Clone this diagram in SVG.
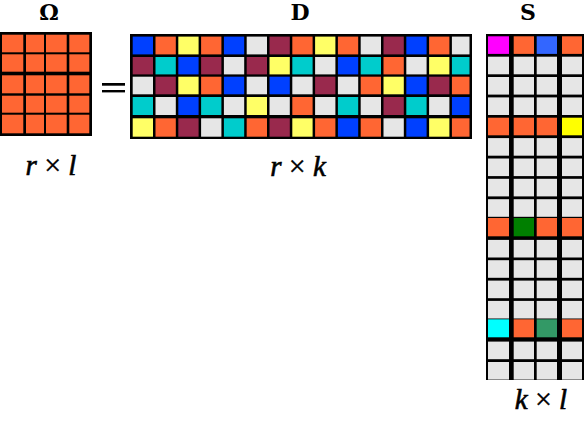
<svg xmlns="http://www.w3.org/2000/svg" width="584" height="444" viewBox="0 0 584 444">
<style>
.bg{fill:#000}
.o{fill:#ff6633}.b{fill:#0040ff}.y{fill:#ffff66}.g{fill:#e6e6e6}.m{fill:#99294d}.c{fill:#00cccc}
.mg{fill:#ff00ff}.sb{fill:#3366ff}.yy{fill:#ffff00}.gr{fill:#007f00}.cy{fill:#00ffff}.sg{fill:#339966}
.t{font-family:"DejaVu Serif","Liberation Serif",serif;font-weight:bold;font-size:22px;text-anchor:middle}
.m2{font-family:"Liberation Serif","DejaVu Serif",serif;font-style:italic;font-size:29px;text-anchor:middle;stroke:#000;stroke-width:0.6}
.x{font-style:normal;font-size:30px;stroke-width:0.3}
</style>
<rect width="584" height="444" fill="#fff"/>
<g id="omega">
<text class="t" x="49" y="20">Ω</text>
<rect class="bg" x="0" y="32" width="92" height="104"/>
<g class="o">
<rect x="2" y="34.7" width="21.3" height="17.6"/><rect x="26" y="34.7" width="18" height="17.6"/><rect x="46" y="34.7" width="20.7" height="17.6"/><rect x="69.3" y="34.7" width="20" height="17.6"/>
<rect x="2" y="54.3" width="21.3" height="17.4"/><rect x="26" y="54.3" width="18" height="17.4"/><rect x="46" y="54.3" width="20.7" height="17.4"/><rect x="69.3" y="54.3" width="20" height="17.4"/>
<rect x="2" y="75.3" width="21.3" height="18"/><rect x="26" y="75.3" width="18" height="18"/><rect x="46" y="75.3" width="20.7" height="18"/><rect x="69.3" y="75.3" width="20" height="18"/>
<rect x="2" y="95.7" width="21.3" height="17"/><rect x="26" y="95.7" width="18" height="17"/><rect x="46" y="95.7" width="20.7" height="17"/><rect x="69.3" y="95.7" width="20" height="17"/>
<rect x="2" y="114.7" width="21.3" height="18.6"/><rect x="26" y="114.7" width="18" height="18.6"/><rect x="46" y="114.7" width="20.7" height="18.6"/><rect x="69.3" y="114.7" width="20" height="18.6"/>
</g>
<text class="m2" x="51" y="175">r <tspan class="x">×</tspan> l</text>
</g>
<g id="equals">
<rect x="102" y="83" width="23" height="2.7" fill="#000"/>
<rect x="102" y="90" width="23" height="2.4" fill="#000"/>
</g>
<g id="D">
<text class="t" x="300" y="20">D</text>
<rect class="bg" x="130" y="34" width="342" height="105"/>
<g id="Drow1">
<rect class="b" x="132.7" y="36.6" width="20.3" height="17.8"/><rect class="o" x="155.5" y="36.6" width="20.3" height="17.8"/><rect class="y" x="178.3" y="36.6" width="20.3" height="17.8"/><rect class="o" x="201.1" y="36.6" width="20.3" height="17.8"/><rect class="b" x="223.9" y="36.6" width="20.3" height="17.8"/><rect class="g" x="246.7" y="36.6" width="20.3" height="17.8"/><rect class="m" x="269.5" y="36.6" width="20.3" height="17.8"/><rect class="o" x="292.3" y="36.6" width="20.3" height="17.8"/><rect class="y" x="315.1" y="36.6" width="20.3" height="17.8"/><rect class="o" x="337.9" y="36.6" width="20.3" height="17.8"/><rect class="g" x="360.7" y="36.6" width="20.3" height="17.8"/><rect class="m" x="383.5" y="36.6" width="20.3" height="17.8"/><rect class="b" x="406.3" y="36.6" width="20.3" height="17.8"/><rect class="o" x="429.1" y="36.6" width="20.3" height="17.8"/><rect class="g" x="451.9" y="36.6" width="17.6" height="17.8"/>
</g>
<g id="Drow2">
<rect class="m" x="132.7" y="57" width="20.3" height="17.4"/><rect class="c" x="155.5" y="57" width="20.3" height="17.4"/><rect class="b" x="178.3" y="57" width="20.3" height="17.4"/><rect class="m" x="201.1" y="57" width="20.3" height="17.4"/><rect class="g" x="223.9" y="57" width="20.3" height="17.4"/><rect class="m" x="246.7" y="57" width="20.3" height="17.4"/><rect class="y" x="269.5" y="57" width="20.3" height="17.4"/><rect class="c" x="292.3" y="57" width="20.3" height="17.4"/><rect class="g" x="315.1" y="57" width="20.3" height="17.4"/><rect class="b" x="337.9" y="57" width="20.3" height="17.4"/><rect class="c" x="360.7" y="57" width="20.3" height="17.4"/><rect class="o" x="383.5" y="57" width="20.3" height="17.4"/><rect class="g" x="406.3" y="57" width="20.3" height="17.4"/><rect class="y" x="429.1" y="57" width="20.3" height="17.4"/><rect class="c" x="451.9" y="57" width="17.6" height="17.4"/>
</g>
<g id="Drow3">
<rect class="g" x="132.7" y="76.7" width="20.3" height="17.6"/><rect class="m" x="155.5" y="76.7" width="20.3" height="17.6"/><rect class="y" x="178.3" y="76.7" width="20.3" height="17.6"/><rect class="o" x="201.1" y="76.7" width="20.3" height="17.6"/><rect class="b" x="223.9" y="76.7" width="20.3" height="17.6"/><rect class="g" x="246.7" y="76.7" width="20.3" height="17.6"/><rect class="b" x="269.5" y="76.7" width="20.3" height="17.6"/><rect class="g" x="292.3" y="76.7" width="20.3" height="17.6"/><rect class="m" x="315.1" y="76.7" width="20.3" height="17.6"/><rect class="g" x="337.9" y="76.7" width="20.3" height="17.6"/><rect class="o" x="360.7" y="76.7" width="20.3" height="17.6"/><rect class="y" x="383.5" y="76.7" width="20.3" height="17.6"/><rect class="b" x="406.3" y="76.7" width="20.3" height="17.6"/><rect class="m" x="429.1" y="76.7" width="20.3" height="17.6"/><rect class="o" x="451.9" y="76.7" width="17.6" height="17.6"/>
</g>
<g id="Drow4">
<rect class="c" x="132.7" y="97" width="20.3" height="18"/><rect class="g" x="155.5" y="97" width="20.3" height="18"/><rect class="b" x="178.3" y="97" width="20.3" height="18"/><rect class="c" x="201.1" y="97" width="20.3" height="18"/><rect class="g" x="223.9" y="97" width="20.3" height="18"/><rect class="y" x="246.7" y="97" width="20.3" height="18"/><rect class="g" x="269.5" y="97" width="20.3" height="18"/><rect class="o" x="292.3" y="97" width="20.3" height="18"/><rect class="g" x="315.1" y="97" width="20.3" height="18"/><rect class="c" x="337.9" y="97" width="20.3" height="18"/><rect class="g" x="360.7" y="97" width="20.3" height="18"/><rect class="m" x="383.5" y="97" width="20.3" height="18"/><rect class="c" x="406.3" y="97" width="20.3" height="18"/><rect class="g" x="429.1" y="97" width="20.3" height="18"/><rect class="b" x="451.9" y="97" width="17.6" height="18"/>
</g>
<g id="Drow5">
<rect class="y" x="132.7" y="118.3" width="20.3" height="18.4"/><rect class="o" x="155.5" y="118.3" width="20.3" height="18.4"/><rect class="m" x="178.3" y="118.3" width="20.3" height="18.4"/><rect class="g" x="201.1" y="118.3" width="20.3" height="18.4"/><rect class="c" x="223.9" y="118.3" width="20.3" height="18.4"/><rect class="o" x="246.7" y="118.3" width="20.3" height="18.4"/><rect class="m" x="269.5" y="118.3" width="20.3" height="18.4"/><rect class="y" x="292.3" y="118.3" width="20.3" height="18.4"/><rect class="o" x="315.1" y="118.3" width="20.3" height="18.4"/><rect class="b" x="337.9" y="118.3" width="20.3" height="18.4"/><rect class="o" x="360.7" y="118.3" width="20.3" height="18.4"/><rect class="g" x="383.5" y="118.3" width="20.3" height="18.4"/><rect class="b" x="406.3" y="118.3" width="20.3" height="18.4"/><rect class="y" x="429.1" y="118.3" width="20.3" height="18.4"/><rect class="o" x="451.9" y="118.3" width="17.6" height="18.4"/>
</g>
<text class="m2" x="298" y="176">r <tspan class="x">×</tspan> k</text>
</g>
<g id="S">
<text class="t" x="528" y="20">S</text>
<rect class="bg" x="486" y="34" width="98" height="346"/>
<defs>
<g id="srow">
<rect x="488" y="0" width="21" height="17.6"/><rect x="513.7" y="0" width="20.3" height="17.6"/><rect x="536.7" y="0" width="20.3" height="17.6"/><rect x="562" y="0" width="20" height="17.6"/>
</g>
</defs>
<g class="g">
<use href="#srow" y="56.7"/><use href="#srow" y="77"/><use href="#srow" y="97.4"/>
<use href="#srow" y="138.1"/><use href="#srow" y="158.5"/><use href="#srow" y="178.8"/><use href="#srow" y="199.2"/>
<use href="#srow" y="239.9"/><use href="#srow" y="260.2"/><use href="#srow" y="280.6"/><use href="#srow" y="300.9"/>
<use href="#srow" y="341.6"/><use href="#srow" y="362"/>
</g>
<rect class="mg" x="488" y="36.3" width="21" height="17.6"/><rect class="o" x="513.7" y="36.3" width="20.3" height="17.6"/><rect class="sb" x="536.7" y="36.3" width="20.3" height="17.6"/><rect class="o" x="562" y="36.3" width="20" height="17.6"/>
<rect class="o" x="488" y="117.7" width="21" height="17.6"/><rect class="o" x="513.7" y="117.7" width="20.3" height="17.6"/><rect class="o" x="536.7" y="117.7" width="20.3" height="17.6"/><rect class="yy" x="562" y="117.7" width="20" height="17.6"/>
<rect class="o" x="488" y="218" width="21" height="18.3"/><rect class="gr" x="513.7" y="218" width="20.3" height="18.3"/><rect class="o" x="536.7" y="218" width="20.3" height="18.3"/><rect class="o" x="562" y="218" width="20" height="18.3"/>
<rect class="cy" x="488" y="319.3" width="21" height="18"/><rect class="o" x="513.7" y="319.3" width="20.3" height="18"/><rect class="sg" x="536.7" y="319.3" width="20.3" height="18"/><rect class="o" x="562" y="319.3" width="20" height="18"/>
<text class="m2" x="541" y="409">k <tspan class="x">×</tspan> l</text>
</g>
</svg>
